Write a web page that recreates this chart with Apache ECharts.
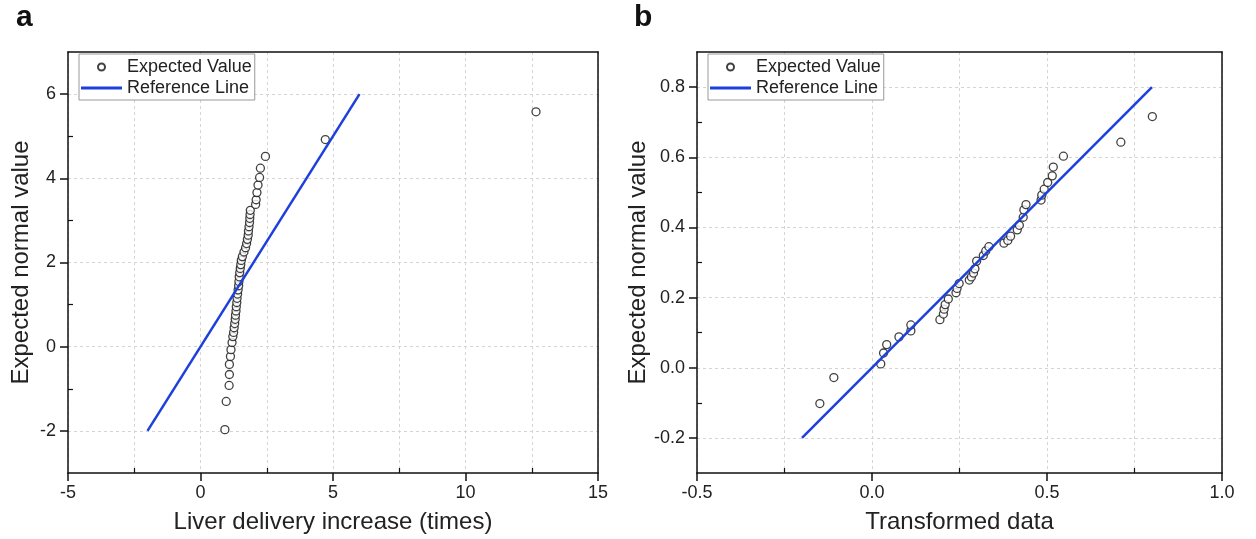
<!DOCTYPE html>
<html><head><meta charset="utf-8">
<script src="https://cdn.jsdelivr.net/npm/echarts@6/dist/echarts.min.js"></script>
<style>html,body{margin:0;padding:0;background:#fff}#c{width:1256px;height:539px}</style>
</head><body><div id="c"></div><script>
// Panel a: QQ plot data (x = liver delivery increase, y = expected normal value)
const aX = [0.92,0.97,1.08,1.09,1.09,1.13,1.15,1.19,1.22,1.25,1.27,1.29,1.31,1.32,1.34,1.35,1.37,1.38,1.40,1.42,1.44,1.45,1.46,1.48,1.50,1.52,1.54,1.58,1.64,1.70,1.74,1.77,1.80,1.81,1.83,1.85,1.86,1.87,1.88,2.08,2.10,2.13,2.17,2.23,2.26,2.45,4.71,12.66];
const aY = [-1.97,-1.30,-0.92,-0.66,-0.42,-0.23,-0.07,0.10,0.24,0.34,0.45,0.55,0.65,0.75,0.85,0.95,1.05,1.15,1.25,1.35,1.45,1.55,1.66,1.76,1.86,1.95,2.05,2.14,2.25,2.35,2.45,2.55,2.65,2.75,2.85,2.95,3.05,3.14,3.24,3.38,3.49,3.66,3.84,4.02,4.24,4.52,4.92,5.58];
const refA = [[-2,-2],[6,6]];
// Panel b: transformed data
const bX = [-0.149,-0.109,0.025,0.033,0.042,0.077,0.111,0.111,0.194,0.204,0.206,0.209,0.218,0.240,0.243,0.249,0.278,0.284,0.290,0.294,0.299,0.318,0.325,0.334,0.377,0.388,0.396,0.415,0.421,0.432,0.434,0.440,0.483,0.485,0.492,0.502,0.515,0.518,0.547,0.711,0.801];
const bY = [-0.102,-0.028,0.011,0.042,0.066,0.088,0.105,0.122,0.137,0.153,0.167,0.180,0.196,0.214,0.226,0.240,0.250,0.259,0.270,0.282,0.304,0.320,0.333,0.345,0.355,0.363,0.375,0.393,0.406,0.429,0.450,0.465,0.478,0.492,0.509,0.528,0.547,0.572,0.603,0.643,0.716];
const refB = [[-0.2,-0.2],[0.8,0.8]];
// tick labels
const aXTicks = [-5,0,5,10,15], aXMinor = [-2.5,2.5,7.5,12.5];
const aYTicks = [-2,0,2,4,6], aYMinor = [-1,1,3,5];
const bXTicks = [-0.5,0,0.5,1.0], bXMinor = [-0.25,0.25,0.75];
const bYTicks = [-0.2,0,0.2,0.4,0.6,0.8], bYMinor = [-0.1,0.1,0.3,0.5,0.7];

const FONT = 'Liberation Sans, Arial, sans-serif';
const BLUE = '#1d3fdc';
const INK = '#111';
const gridLine = {show:true, lineStyle:{color:'#d4d4d4', width:1, type:[3,3]}};
const axLine = {show:true, onZero:false, lineStyle:{color:INK, width:1.5}};

function mainX(gi, min, max, interval, ticks, fmt, name){
  return {type:'value', gridIndex:gi, position:'bottom', min, max, interval,
    axisLine:axLine,
    axisTick:{show:true, inside:false, length:8, customValues:ticks, lineStyle:{color:INK, width:1.5}},
    minorTick:{show:false, splitNumber:2},
    splitLine:gridLine, minorSplitLine:gridLine,
    axisLabel:{show:true, customValues:ticks, formatter:fmt, fontSize:18, color:'#222', fontFamily:FONT, margin:11},
    name, nameLocation:'middle', nameGap:37, nameTextStyle:{fontSize:24, color:'#222', fontFamily:FONT}};
}
function minorX(gi, min, max, interval, minors){
  return {type:'value', gridIndex:gi, position:'bottom', offset:0, min, max, interval,
    axisLine:{show:false, onZero:false}, axisLabel:{show:false}, splitLine:{show:false},
    axisTick:{show:true, inside:true, length:5, customValues:minors, lineStyle:{color:INK, width:1.2}}};
}
function frameX(gi, min, max){
  return {type:'value', gridIndex:gi, position:'top', min, max,
    axisLine:axLine, axisTick:{show:false}, axisLabel:{show:false}, splitLine:{show:false}};
}
function mainY(gi, min, max, interval, ticks, fmt, nameGap){
  return {type:'value', gridIndex:gi, position:'left', min, max, interval,
    axisLine:axLine,
    axisTick:{show:true, inside:false, length:8, customValues:ticks, lineStyle:{color:INK, width:1.5}},
    splitLine:gridLine,
    axisLabel:{show:true, customValues:ticks, formatter:fmt, fontSize:18, color:'#222', fontFamily:FONT, margin:12},
    name:'Expected normal value', nameLocation:'middle', nameGap, nameTextStyle:{fontSize:24, color:'#222', fontFamily:FONT}};
}
function minorY(gi, min, max, interval, minors){
  return {type:'value', gridIndex:gi, position:'left', offset:0, min, max, interval,
    axisLine:{show:false, onZero:false}, axisLabel:{show:false}, splitLine:{show:false},
    axisTick:{show:true, inside:true, length:5, customValues:minors, lineStyle:{color:INK, width:1.2}}};
}
function frameY(gi, min, max){
  return {type:'value', gridIndex:gi, position:'right', min, max,
    axisLine:axLine, axisTick:{show:false}, axisLabel:{show:false}, splitLine:{show:false}};
}
const fmtInt = v => String(Math.round(v));
const fmt1 = v => (Math.abs(v) < 1e-9 ? 0 : v).toFixed(1);

function legend(left){
  return {left, top:54, orient:'vertical', itemWidth:41, itemHeight:7, itemGap:3,
    padding:[4,3,3,2], borderColor:'#999', borderWidth:1, backgroundColor:'#fff',
    textStyle:{fontSize:18, color:'#222', fontFamily:FONT},
    data:[{name:'Expected Value'}, {name:'Reference Line', icon:'path://M0,0H41V3H0Z'}]};
}
function scatter(xi, yi, xs, ys){
  return {name:'Expected Value', type:'scatter', xAxisIndex:xi, yAxisIndex:yi,
    symbol:'circle', symbolSize:8, z:2,
    itemStyle:{color:'#fff', borderColor:INK, borderWidth:1.3},
    data: xs.map((x,i)=>[x, ys[i]])};
}
function refLine(xi, yi, pts){
  return {name:'Reference Line', type:'line', xAxisIndex:xi, yAxisIndex:yi, symbol:'none', z:3,
    lineStyle:{color:BLUE, width:2.5}, itemStyle:{color:BLUE}, data:pts};
}

const chart = echarts.init(document.getElementById('c'));
chart.setOption({
  backgroundColor:'#fff',
  animation:false,
  textStyle:{fontFamily:FONT},
  grid:[
    {left:68, right:658, top:52, bottom:64},
    {left:697, right:34, top:52, bottom:64}
  ],
  legend:[legend(79), legend(708)],
  xAxis:[
    mainX(0,-5,15,5,aXTicks,fmtInt,'Liver delivery increase (times)'),
    minorX(0,-5,15,2.5,aXMinor),
    mainX(1,-0.5,1.0,0.5,bXTicks,fmt1,'Transformed data'),
    minorX(1,-0.5,1.0,0.25,bXMinor),
    frameX(0,-5,15),
    frameX(1,-0.5,1.0)
  ],
  yAxis:[
    mainY(0,-3,7,1,aYTicks,fmtInt,35),
    minorY(0,-3,7,1,aYMinor),
    mainY(1,-0.3,0.9,0.1,bYTicks,fmt1,45),
    minorY(1,-0.3,0.9,0.1,bYMinor),
    frameY(0,-3,7),
    frameY(1,-0.3,0.9)
  ],
  series:[
    scatter(0,0,aX,aY), refLine(0,0,refA),
    scatter(2,2,bX,bY), refLine(2,2,refB)
  ],
  graphic:[
    {type:'text', left:16, top:3, style:{text:'a', font:'bold 30px '+FONT, fill:INK}},
    {type:'text', left:634, top:3, style:{text:'b', font:'bold 30px '+FONT, fill:INK}}
  ]
});
</script></body></html>
